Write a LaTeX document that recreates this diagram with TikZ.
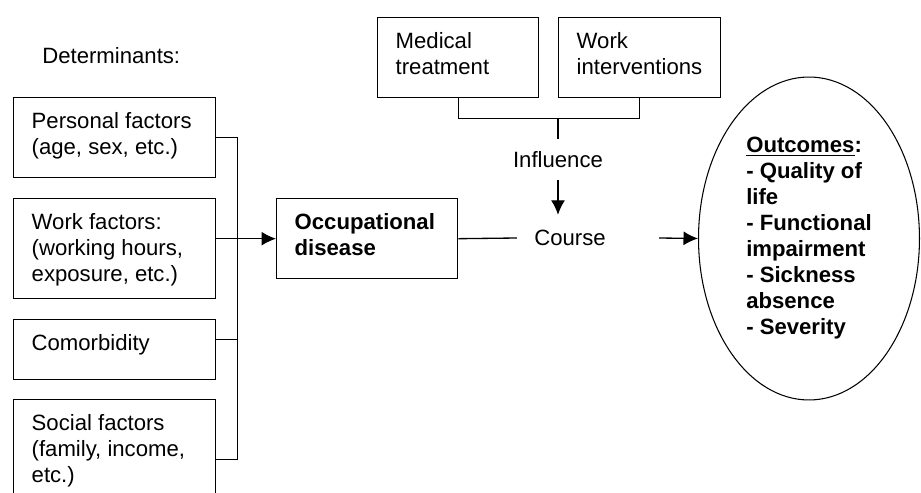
\documentclass[tikz,border=0pt]{standalone}
\usepackage{fontspec}
\setmainfont{Liberation Sans}
\usepackage{tikz}
\usetikzlibrary{positioning,arrows.meta,calc,shapes.geometric}
\newcommand{\figfont}{\fontsize{12.6}{14.8}\selectfont}
\newcommand{\boxtext}[3]{\parbox[t][#1][t]{#2}{\leftskip=0.36cm\rule{0pt}{0.61cm}#3}}

\begin{document}
\begin{tikzpicture}[x=0.02cm,y=-0.02cm,font=\figfont,
      factor/.style={draw,line width=0.8pt,anchor=north west,inner sep=0pt},
      link/.style={line width=0.75pt},
      arrow/.style={-{Latex[length=0.29cm,width=0.28cm]},line width=0.75pt}]
    \clip (0,0) rectangle (921,493);
    \node[anchor=base west,inner sep=0pt] (det) at (42,64) {Determinants:};
    \node[factor] (pers) at (13,97) {\boxtext{1.6cm}{4.04cm}{Personal factors\\(age, sex, etc.)}};
    \node[factor] (wrk) at (13,198) {\boxtext{2cm}{4.04cm}{Work factors:\\(working hours,\\exposure, etc.)}};
    \node[factor] (com) at (13,319) {\boxtext{1.2cm}{4.04cm}{Comorbidity}};
    \node[factor] (soc) at (13,399) {\boxtext{2.4cm}{4.04cm}{Social factors\\(family, income,\\etc.)}};
    \node[factor] (occ) at (276,198) {\boxtext{1.6cm}{3.62cm}{\bfseries Occupational\\disease}};
    \node[factor] (med) at (377,17) {\boxtext{1.6cm}{3.22cm}{Medical\\treatment}};
    \node[factor] (wint) at (558,17) {\boxtext{1.6cm}{3.24cm}{Work\\interventions}};
    \node[inner xsep=0pt,inner ysep=0.25cm] (infl) at (558,159.5) {Influence};
    \node[inner xsep=0.34cm,inner ysep=0.3cm] (course) at (570,238) {Course};
    \node[draw,ellipse,line width=0.6pt,minimum width=4.42cm,minimum height=6.46cm,inner sep=0pt,
      align=left,font=\figfont\bfseries] (out) at (809,238.5)
      {\underline{Outcomes}:\\- Quality of\\life\\- Functional\\impairment\\- Sickness\\absence\\- Severity};
    \draw[link] (pers.east) -- ++(21,0) |- (soc.east);
    \draw[link] ([yshift=0.2cm]com.east) -- ++(21,0);
    \draw[arrow] (wrk.east |- occ.west) -- (occ.west);
    \draw[link] (occ.east) -- (course.west);
    \draw[arrow] ([xshift=0.72cm]course.east) -- (out.west);
    \draw[link] (med.south) -- ++(0,20) coordinate (brk) -| (wint.south);
    \draw[link] (infl.north) -- (infl.north |- brk);
    \draw[arrow] (infl.south) -- (infl.south |- course.north);
\end{tikzpicture}
\end{document}
